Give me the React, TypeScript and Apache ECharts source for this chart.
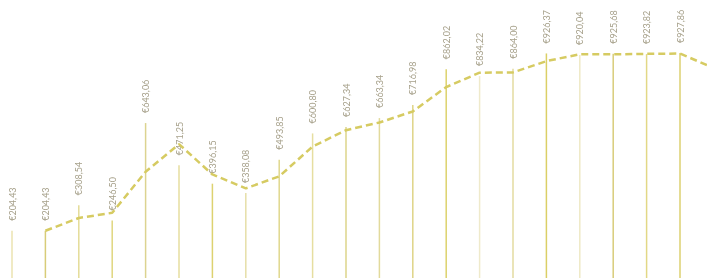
import React, { useEffect, useRef } from "react";
import * as echarts from "echarts";

const categories: string[] = [
  "1", "2", "3", "4", "5", "6", "7", "8", "9", "10", "11",
  "12", "13", "14", "15", "16", "17", "18", "19", "20", "21", "22",
];

const barValues: (number | null)[] = [
  204.43, 204.43, 308.54, 246.5, 643.06, 471.25, 396.15, 358.08, 493.85,
  600.8, 627.34, 663.34, 716.98, 862.02, 834.22, 864.0, 926.37, 920.04,
  925.68, 923.82, 927.86, null,
];

const lineValues: (number | null)[] = [
  null, 204.43, 256.49, 277.52, 444.78, 557.16, 433.7, 377.12, 425.97,
  547.33, 614.07, 645.34, 690.16, 789.5, 848.12, 849.11, 895.19, 923.21,
  922.86, 924.75, 925.84, 868.0,
];

const barColors: string[] = [
  "#ebe3b0", "#d8cc78", "#e4dc98", "#e0d67f", "#dcd390", "#e6de9f",
  "#ddd270", "#e6dfa8", "#e0d78d", "#e6dea0", "#ddd48a", "#e2da9c",
  "#dfd487", "#ddd26c", "#efeacb", "#e3dba0", "#dbcf66", "#efe9c6",
  "#d8cc7a", "#e2d886", "#dcd170", "#dcd170",
];

export default function App() {
  const ref = useRef<HTMLDivElement>(null);
  useEffect(() => {
    if (!ref.current) return;
    const chart = echarts.init(ref.current, null, { renderer: "svg" });
    chart.setOption({
      animation: false,
      grid: {
        left: -4.7,
        width: 734.8,
        top: 0,
        height: 281,
        outerBoundsMode: "none",
        containLabel: false,
      },
      xAxis: {
        type: "category",
        data: categories,
        show: false,
        boundaryGap: true,
      },
      yAxis: {
        type: "value",
        min: 0,
        max: 1144,
        show: false,
        splitLine: { show: false },
      },
      series: [
        {
          type: "bar",
          barWidth: 1.5,
          data: barValues.map((v, i) => ({
            value: v,
            itemStyle: { color: barColors[i] },
          })),
          label: {
            show: true,
            position: "top",
            rotate: 90,
            align: "left",
            verticalAlign: "middle",
            distance: 10,
            fontFamily: "Lato",
            fontSize: 9,
            color: "#a6a08a",
            formatter: (p: any) =>
              "€" + Number(p.value).toFixed(2).replace(".", ","),
          },
        },
        {
          type: "line",
          data: lineValues,
          symbol: "none",
          connectNulls: false,
          lineStyle: { color: "#d6cb62", width: 2.5, type: [7, 4] },
          z: 3,
        },
      ],
    });
    return () => chart.dispose();
  }, []);
  return (
    <div
      ref={ref}
      style={{ position: "fixed", left: 0, top: 0, width: 707, height: 278 }}
    />
  );
}
